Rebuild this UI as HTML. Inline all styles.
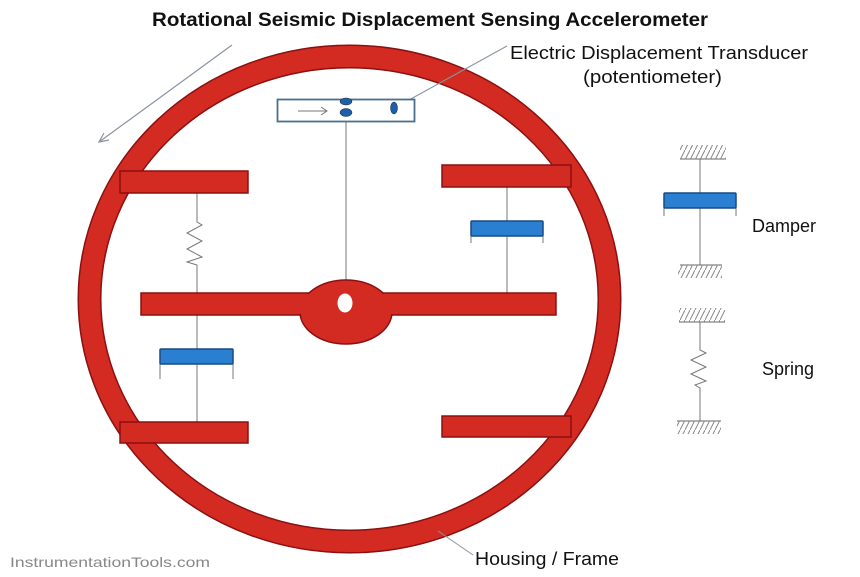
<!DOCTYPE html>
<html><head><meta charset="utf-8"><style>
html,body{margin:0;padding:0;background:#fff;width:860px;height:577px;overflow:hidden}
svg{display:block}
</style></head><body>
<svg width="860" height="577" viewBox="0 0 860 577" xmlns="http://www.w3.org/2000/svg" font-family="Liberation Sans, sans-serif">
<defs>
<pattern id="h" width="5" height="10" patternUnits="userSpaceOnUse">
<line x1="0" y1="10" x2="5" y2="0" stroke="#888" stroke-width="1"/>
</pattern>
</defs>
<rect width="860" height="577" fill="#fff"/>
<text x="430" y="26" text-anchor="middle" font-size="19" font-weight="bold" textLength="556" lengthAdjust="spacingAndGlyphs" fill="#111">Rotational Seismic Displacement Sensing Accelerometer</text>

<!-- ring -->
<ellipse cx="349.5" cy="299" rx="260" ry="242.5" fill="none" stroke="#8b1010" stroke-width="24"/>
<ellipse cx="349.5" cy="299" rx="260" ry="242.5" fill="none" stroke="#d32a22" stroke-width="21"/>

<!-- rotation arrow -->
<line x1="232" y1="45" x2="99" y2="142" stroke="#8a93a0" stroke-width="1.2"/>
<polyline points="104,133 99,142 109,140" fill="none" stroke="#8a93a0" stroke-width="1.2"/>

<!-- transducer leader -->
<line x1="398" y1="106" x2="507" y2="46" stroke="#8a93a0" stroke-width="1"/>

<!-- lines -->
<g stroke="#777" stroke-width="1" fill="none">
<line x1="346" y1="121" x2="346" y2="280"/>
<polyline points="197,193 197,222 202,225 187,233 202,241 187,249 202,257 187,262 197,265 197,293"/>
<line x1="197" y1="315" x2="197" y2="422"/>
<line x1="160" y1="364" x2="160" y2="379"/><line x1="233" y1="364" x2="233" y2="379"/>
<line x1="507" y1="187" x2="507" y2="293"/>
<line x1="471" y1="236" x2="471" y2="243"/><line x1="543" y1="236" x2="543" y2="243"/>
<!-- legend damper -->
<line x1="700" y1="159" x2="700" y2="265"/>
<line x1="664" y1="208" x2="664" y2="216"/><line x1="736" y1="208" x2="736" y2="216"/>
<line x1="680" y1="159" x2="726" y2="159" stroke="#666"/>
<line x1="680" y1="265" x2="722" y2="265" stroke="#666"/>
<!-- legend spring -->
<polyline points="700,322 700,350 706,353 691,360 706,367 691,374 706,381 695,385 700,388 700,421"/>
<line x1="679" y1="322" x2="725" y2="322" stroke="#666"/>
<line x1="677" y1="421" x2="721" y2="421" stroke="#666"/>
</g>
<rect x="680" y="145" width="46" height="14" fill="url(#h)"/>
<rect x="678" y="265" width="44" height="13" fill="url(#h)"/>
<rect x="679" y="308" width="46" height="14" fill="url(#h)"/>
<rect x="677" y="421" width="44" height="13" fill="url(#h)"/>

<!-- transducer box -->
<rect x="277.5" y="99.5" width="137" height="22" fill="#fff" stroke="#4a6f8f" stroke-width="1.8"/>
<line x1="298" y1="111" x2="327" y2="111" stroke="#777" stroke-width="1"/>
<polyline points="321,107 327,111 321,115" fill="none" stroke="#777" stroke-width="1"/>
<ellipse cx="346" cy="101.5" rx="6" ry="3.5" fill="#1f5fa8" stroke="#123" stroke-width=".5"/>
<ellipse cx="346" cy="112.5" rx="6" ry="4" fill="#1f5fa8" stroke="#123" stroke-width=".5"/>
<ellipse cx="394" cy="108" rx="3.5" ry="6" fill="#1f5fa8" stroke="#123" stroke-width=".5"/>

<!-- red bars -->
<g fill="#d32a22" stroke="#8b1010" stroke-width="1.5">
<rect x="120" y="171" width="128" height="22"/>
<rect x="442" y="165" width="129" height="22"/>
<rect x="120" y="422" width="128" height="21"/>
<rect x="442" y="416" width="129" height="21"/>
<rect x="141" y="293" width="415" height="22"/>
<ellipse cx="346" cy="312" rx="46" ry="32"/>
</g>
<rect x="142" y="294" width="413" height="20" fill="#d32a22"/>
<ellipse cx="345" cy="303" rx="7.5" ry="9.5" fill="#fff"/>

<!-- blue dampers -->
<g fill="#2a7fd0" stroke="#1a4a80" stroke-width="1.5">
<rect x="471" y="221" width="72" height="15" rx="1"/>
<rect x="160" y="349" width="73" height="15" rx="1"/>
<rect x="664" y="193" width="72" height="15" rx="1"/>
</g>

<!-- housing leader -->
<line x1="473" y1="555" x2="438" y2="531" stroke="#8a93a0" stroke-width="1"/>

<g font-size="18" fill="#111">
<text x="510" y="59" textLength="298" lengthAdjust="spacingAndGlyphs">Electric Displacement Transducer</text>
<text x="583" y="83" textLength="139" lengthAdjust="spacingAndGlyphs">(potentiometer)</text>
<text x="752" y="232">Damper</text>
<text x="762" y="375">Spring</text>
<text x="475" y="565" textLength="144" lengthAdjust="spacingAndGlyphs">Housing / Frame</text>
</g>
<text x="10" y="567" font-size="14" fill="#888" textLength="200" lengthAdjust="spacingAndGlyphs">InstrumentationTools.com</text>
</svg>
</body></html>
